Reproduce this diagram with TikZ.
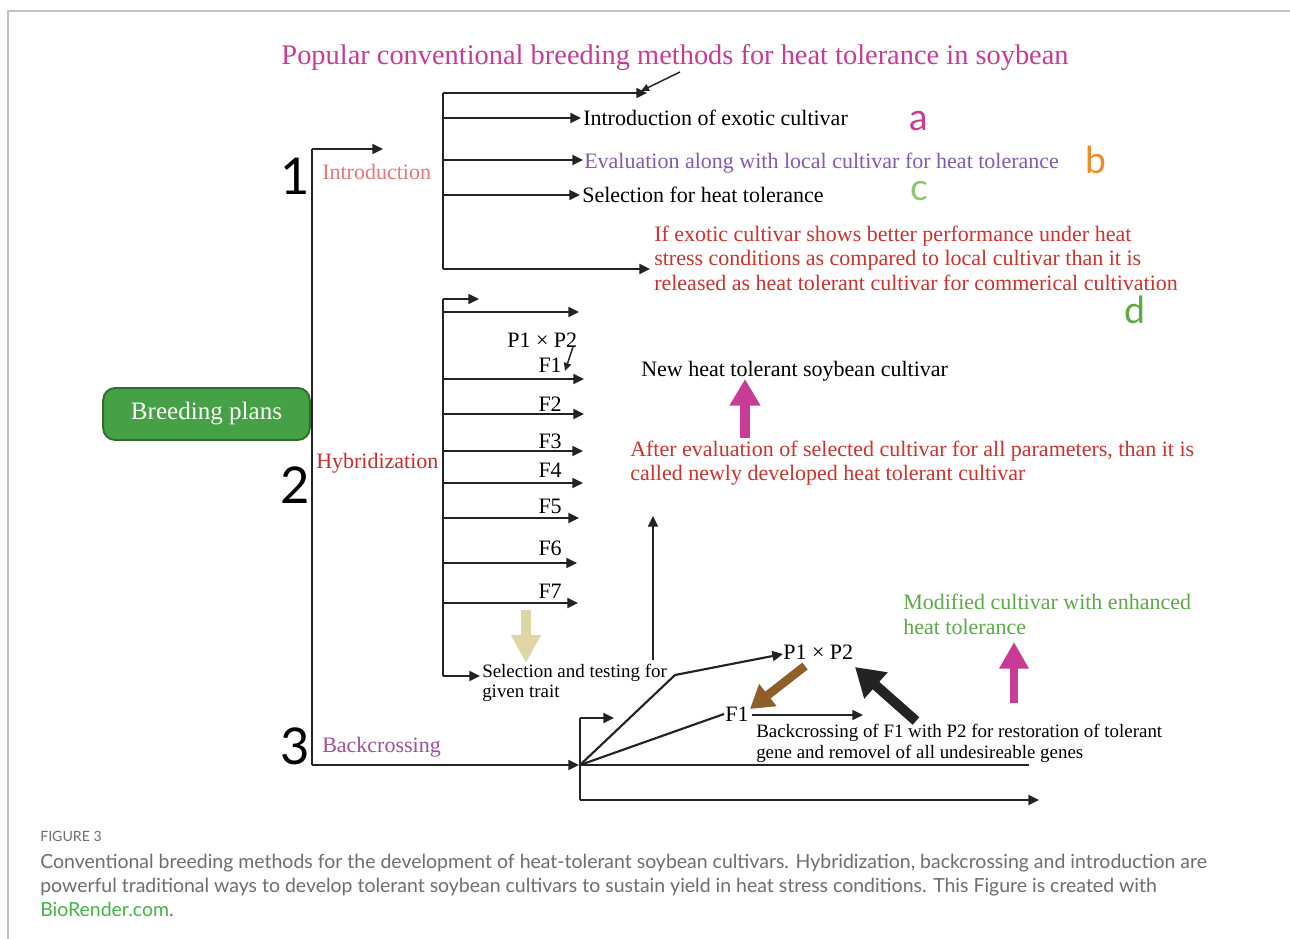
\documentclass[tikz,border=0pt]{standalone}
\usepackage{fontspec}
\setmainfont{Liberation Serif}
\newfontfamily\capfont{Lato}
\usetikzlibrary{arrows.meta}
\definecolor{titlec}{RGB}{200,60,150}
\definecolor{introc}{RGB}{228,120,120}
\definecolor{hybc}{RGB}{200,45,45}
\definecolor{backc}{RGB}{160,80,150}
\definecolor{evalc}{RGB}{130,90,180}
\definecolor{redc}{RGB}{205,50,45}
\definecolor{greenc}{RGB}{92,170,70}
\definecolor{lgreenc}{RGB}{140,200,110}
\definecolor{orangec}{RGB}{240,140,40}
\definecolor{magc}{RGB}{200,60,150}
\definecolor{linec}{RGB}{35,35,35}
\definecolor{boxfill}{RGB}{70,160,70}
\definecolor{boxdraw}{RGB}{45,110,45}
\definecolor{tanc}{RGB}{224,213,165}
\definecolor{brownc}{RGB}{142,95,40}
\definecolor{capgray}{RGB}{110,110,110}
\definecolor{linkc}{RGB}{70,180,70}
\definecolor{framec}{RGB}{195,195,195}
\tikzset{
  plain/.style={draw=linec, line width=1.6pt},
  conn/.style={draw=linec, line width=1.6pt, -{Triangle[length=8pt,width=7.5pt]}},
  thinconn/.style={draw=linec, line width=1.1pt, -{Triangle[length=6pt,width=5.5pt]}},
  txt/.style={inner sep=0pt, anchor=base west, font=\fontsize{16.5}{18.4}\selectfont},
  smalltxt/.style={inner sep=0pt, anchor=base west, font=\fontsize{14.2}{16}\selectfont},
  flab/.style={inner sep=0pt, anchor=base east, font=\fontsize{16.5}{18.4}\selectfont},
  digit/.style={inner sep=0pt, anchor=base, font=\capfont\fontsize{38}{40}\selectfont},
  letter/.style={inner sep=0pt, anchor=base, font=\capfont\fontsize{28}{30}\selectfont},
  captxt/.style={inner sep=0pt, anchor=base west, text=capgray, font=\capfont\fontsize{14.6}{16}\selectfont},
}
\begin{document}
\begin{tikzpicture}[x=0.75pt,y=-0.75pt]
\useasboundingbox (0,0) rectangle (1290,939);
\fill[white] (0,0) rectangle (1290,939);
% frame
\coordinate (fbl) at (7.5,939);
\coordinate (ftl) at (7.5,10.5);
\coordinate (ftr) at (1290,10.5);
\draw[framec, line width=1.5pt] (fbl) -- (ftl) -- (ftr);

% title
\node[inner sep=0pt, anchor=base, text=titlec, font=\fontsize{21.3}{24}\selectfont] (title) at (675,64) {Popular conventional breeding methods for heat tolerance in soybean};
\coordinate (tps) at (680,72);
\coordinate (tpe) at (641,91);
\draw[thinconn] (tps) -- (tpe);

% breeding plans
\node[draw=boxdraw, fill=boxfill, rounded corners=9pt, line width=1.4pt, minimum width=155pt, minimum height=39pt, inner sep=0pt, text=white, font=\fontsize{18.8}{20}\selectfont] (bp) at (206.5,414) {Breeding plans};

% main trunk
\coordinate (m0) at (312,149);
\coordinate (m0e) at (383,149);
\coordinate (m3) at (312,765);
\coordinate (m3e) at (579,765);
\draw[plain] (m0) -- (m3);
\draw[conn] (m0) -- (m0e);
\draw[conn] (m3) -- (m3e);

\node[digit] (d1) at (295,194) {1};
\node[digit] (d2) at (295,503) {2};
\node[digit] (d3) at (295,764) {3};
\node[txt, text=introc] (lint) at (322,179) {Introduction};
\node[txt, text=hybc] (lhyb) at (316,468) {Hybridization};
\node[txt, text=backc] (lback) at (322,752) {Backcrossing};

% introduction bracket
\coordinate (i0) at (443,93);   \coordinate (i0e) at (647,93);
\coordinate (i1) at (443,118);  \coordinate (i1e) at (581,118);
\coordinate (i2) at (443,160);  \coordinate (i2e) at (583,160);
\coordinate (i3) at (443,195);  \coordinate (i3e) at (580,195);
\coordinate (i4) at (443,269);  \coordinate (i4e) at (650,269);
\draw[plain] (i0) -- (i4);
\foreach \a/\b in {i0/i0e,i1/i1e,i2/i2e,i3/i3e,i4/i4e} \draw[conn] (\a) -- (\b);

\node[txt] (ta) at (583,125) {Introduction of exotic cultivar};
\node[txt, text=evalc] (tb) at (584,168) {Evaluation along with local cultivar for heat tolerance};
\node[txt] (tc) at (582,202) {Selection for heat tolerance};
\node[txt, text=redc] (td1) at (654,241) {If exotic cultivar shows better performance under heat};
\node[txt, text=redc] (td2) at (654,265) {stress conditions as compared to local cultivar than it is};
\node[txt, text=redc] (td3) at (654,290) {released as heat tolerant cultivar for commerical cultivation};
\node[letter, text=magc] (la) at (919,130) {a};
\node[letter, text=orangec] (lb) at (1096,173) {b};
\node[letter, text=lgreenc] (lc) at (919,200) {c};
\node[letter, text=greenc] (ld) at (1135,323) {d};

% hybridization bracket
\coordinate (h0) at (443,299);  \coordinate (h0e) at (479,299);
\coordinate (h1) at (443,312);  \coordinate (h1e) at (579,312);
\coordinate (h2) at (443,379);  \coordinate (h2e) at (584,379);
\coordinate (h3) at (443,414);  \coordinate (h3e) at (584,414);
\coordinate (h4) at (443,451);  \coordinate (h4e) at (583,451);
\coordinate (h5) at (443,483);  \coordinate (h5e) at (583,483);
\coordinate (h6) at (443,518);  \coordinate (h6e) at (579,518);
\coordinate (h7) at (443,563);  \coordinate (h7e) at (577,563);
\coordinate (h8) at (443,603);  \coordinate (h8e) at (578,603);
\coordinate (h9) at (443,676);  \coordinate (h9e) at (480,676);
\draw[plain] (h0) -- (h9);
\foreach \a/\b in {h0/h0e,h1/h1e,h2/h2e,h3/h3e,h4/h4e,h5/h5e,h6/h6e,h7/h7e,h8/h8e,h9/h9e} \draw[conn] (\a) -- (\b);

\node[txt] (hp) at (507,347) {P1 × P2};
\coordinate (hps) at (573,347);
\coordinate (hpe) at (565,371);
\draw[thinconn] (hps) -- (hpe);
\node[flab] (f1) at (562,372) {F1};
\node[flab] (f2) at (562,411) {F2};
\node[flab] (f3) at (562,448) {F3};
\node[flab] (f4) at (562,477) {F4};
\node[flab] (f5) at (562,513) {F5};
\node[flab] (f6) at (562,555) {F6};
\node[flab] (f7) at (562,598) {F7};

\coordinate (tan0) at (526,610);
\coordinate (tan1) at (526,663);
\draw[tanc, line width=7.5pt, -{Triangle[length=21pt,width=21pt]}] (tan0) -- (tan1);

\node[smalltxt] (sel1) at (482,677) {Selection and testing for};
\node[smalltxt] (sel2) at (482,697) {given trait};

% evaluation
\coordinate (v0) at (653,660);
\coordinate (v1) at (653,516);
\draw[conn] (v0) -- (v1);
\node[txt] (newc) at (641,376) {New heat tolerant soybean cultivar};
\coordinate (mg0) at (745,438);
\coordinate (mg1) at (745,379);
\draw[magc, line width=7.5pt, -{Triangle[length=20pt,width=22pt]}] (mg0) -- (mg1);
\node[txt, text=redc] (ae1) at (630,456) {After evaluation of selected cultivar for all parameters, than it is};
\node[txt, text=redc] (ae2) at (630,480) {called newly developed heat tolerant cultivar};

% backcrossing
\coordinate (b0) at (580,718);  \coordinate (b0e) at (614,718);
\coordinate (bm) at (580,765);  \coordinate (bme) at (1029,765);
\coordinate (b2) at (580,800);  \coordinate (b2e) at (1039,800);
\draw[plain] (b0) -- (b2);
\draw[conn] (b0) -- (b0e);
\draw[plain] (bm) -- (bme);
\draw[conn] (b2) -- (b2e);
\node[txt] (bp12) at (783,659) {P1 × P2};
\node[txt] (bf1) at (725,721) {F1};
\coordinate (bk) at (675,675);
\draw[conn] (bm) -- (bk) -- (bp12.west |- 0,654);
\coordinate (bf1w) at (724,714);
\draw[plain] (bm) -- (bf1w);
\coordinate (bf1e) at (752,715);
\coordinate (bf1ee) at (863,715);
\draw[conn] (bf1e) -- (bf1ee);
\coordinate (br0) at (805,666);
\coordinate (br1) at (750,709);
\draw[brownc, line width=6.5pt, -{Triangle[length=17pt,width=20pt]}] (br0) -- (br1);
\coordinate (bk0) at (916,721);
\coordinate (bk1) at (855,667);
\draw[linec, line width=7.5pt, -{Triangle[length=21pt,width=25pt]}] (bk0) -- (bk1);
\node[smalltxt] (bt1) at (756,737) {Backcrossing of F1 with P2 for restoration of tolerant};
\node[smalltxt] (bt2) at (756,758) {gene and removel of all undesireable genes};
\node[txt, text=greenc] (mod1) at (903,609) {Modified cultivar with enhanced};
\node[txt, text=greenc] (mod2) at (903,634) {heat tolerance};
\coordinate (mg2) at (1014,703);
\coordinate (mg3) at (1014,642);
\draw[magc, line width=6pt, -{Triangle[length=20pt,width=21pt]}] (mg2) -- (mg3);

% caption
\node[inner sep=0pt, anchor=base west, text=capgray, font=\capfont\fontsize{10.6}{12}\selectfont] (fig) at (40,841) {FIGURE 3};
\node[captxt] (cap1) at (40,868) {Conventional breeding methods for the development of heat-tolerant soybean cultivars. Hybridization, backcrossing and introduction are};
\node[captxt] (cap2) at (40,892) {powerful traditional ways to develop tolerant soybean cultivars to sustain yield in heat stress conditions. This Figure is created with};
\node[captxt] (cap3) at (40,916) {\textcolor{linkc}{BioRender.com}.};
\end{tikzpicture}
\end{document}
